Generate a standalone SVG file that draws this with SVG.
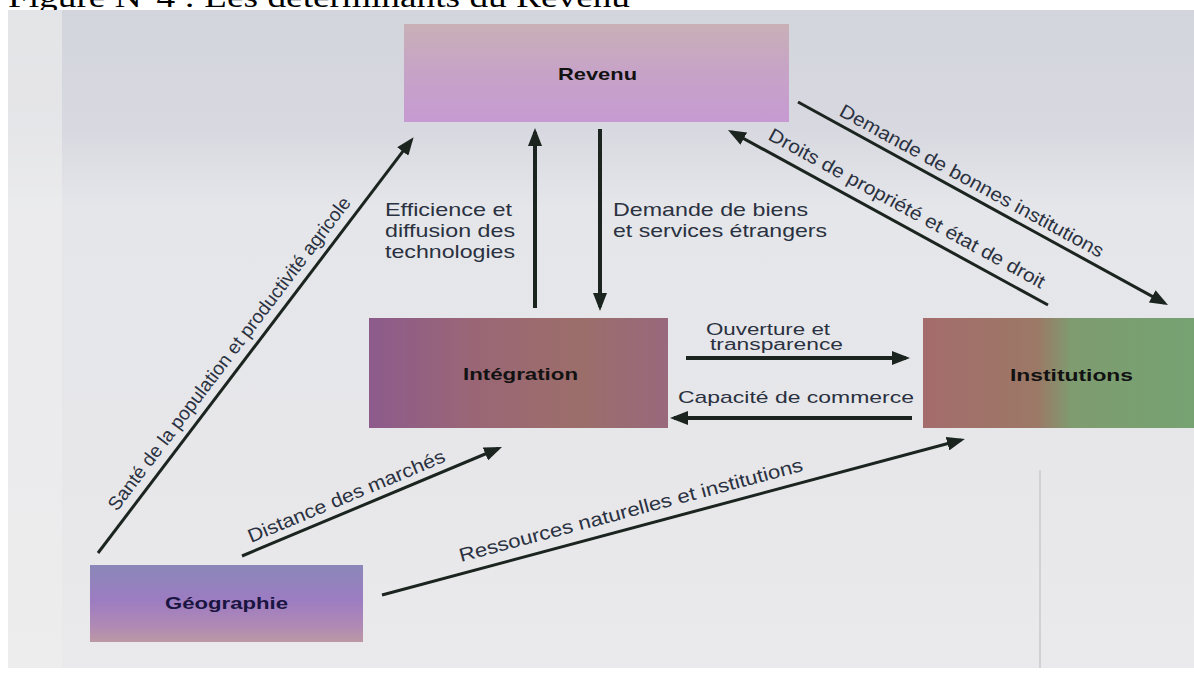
<svg xmlns="http://www.w3.org/2000/svg" width="1194" height="682" viewBox="0 0 1194 682">
<style>
.lbl{font-family:"Liberation Sans",Arial,sans-serif;font-size:19px;fill:#2a3140;}
.node{font-family:"Liberation Sans",Arial,sans-serif;font-size:17px;font-weight:bold;fill:#121212;}
.ln{stroke:#1b241f;fill:none;}
.thick{stroke-width:4;}
.thin{stroke-width:3;}
</style>
<defs>
<linearGradient id="bg" x1="0" y1="0" x2="0" y2="1">
<stop offset="0" stop-color="#d3d5dc"/>
<stop offset="0.18" stop-color="#d8d9e0"/>
<stop offset="0.3" stop-color="#e5e6ea"/>
<stop offset="0.7" stop-color="#e7e7ea"/>
<stop offset="1" stop-color="#eaeaec"/>
</linearGradient>
<linearGradient id="gRev" x1="0" y1="0" x2="0" y2="1">
<stop offset="0" stop-color="#c8b0b6"/>
<stop offset="0.45" stop-color="#c7a4c6"/>
<stop offset="1" stop-color="#c69ad2"/>
</linearGradient>
<linearGradient id="gInt" x1="0" y1="0" x2="1" y2="0">
<stop offset="0" stop-color="#8d5b8c"/>
<stop offset="0.35" stop-color="#9a6676"/>
<stop offset="0.7" stop-color="#9c6e6a"/>
<stop offset="1" stop-color="#99687c"/>
</linearGradient>
<linearGradient id="gIns" x1="0" y1="0" x2="1" y2="0">
<stop offset="0" stop-color="#a46c6c"/>
<stop offset="0.42" stop-color="#9c7866"/>
<stop offset="0.55" stop-color="#7e9c70"/>
<stop offset="1" stop-color="#76a272"/>
</linearGradient>
<linearGradient id="gGeo" x1="0" y1="0" x2="0" y2="1">
<stop offset="0" stop-color="#8a88b8"/>
<stop offset="0.45" stop-color="#9c7cc2"/>
<stop offset="0.8" stop-color="#b08ab4"/>
<stop offset="1" stop-color="#bc98a4"/>
</linearGradient>
<marker id="ah" viewBox="0 0 18 14" markerWidth="18" markerHeight="14" refX="14" refY="7" orient="auto" markerUnits="userSpaceOnUse">
<path d="M0,0 L18,7 L0,14 Z" fill="#1b241f"/>
</marker>
</defs>

<g id="title">
<text x="8" y="7" font-family="'Liberation Serif','Times New Roman',serif" font-size="30" fill="#000" textLength="622" lengthAdjust="spacingAndGlyphs">Figure N°4 : Les déterminants du Revenu</text>
</g>

<g id="background">
<rect x="8" y="10" width="1186" height="658" fill="url(#bg)"/>
<rect x="8" y="10" width="54" height="658" fill="#efefef" opacity="0.6"/>
<line x1="1040" y1="470" x2="1040" y2="668" stroke="#c9c9ce" stroke-width="1.5"/>
</g>

<g id="revenu">
<rect x="404" y="24" width="385" height="98" fill="url(#gRev)"/>
<text class="node" x="558" y="80" textLength="79" lengthAdjust="spacingAndGlyphs">Revenu</text>
</g>

<g id="integration">
<rect x="369" y="318" width="299" height="110" fill="url(#gInt)"/>
<text class="node" x="463" y="380" textLength="115" lengthAdjust="spacingAndGlyphs">Intégration</text>
</g>

<g id="institutions">
<rect x="923" y="318" width="271" height="110" fill="url(#gIns)"/>
<text class="node" x="1010" y="381" textLength="123" lengthAdjust="spacingAndGlyphs">Institutions</text>
</g>

<g id="geographie">
<rect x="90" y="565" width="273" height="77" fill="url(#gGeo)"/>
<text class="node" x="165" y="609" fill="#1a1440" style="fill:#1a1440" textLength="123" lengthAdjust="spacingAndGlyphs">Géographie</text>
</g>

<g id="connectors">
<line class="ln thin" x1="98" y1="553" x2="411.2" y2="140.4" marker-end="url(#ah)"/>
<line class="ln thick" x1="535" y1="308" x2="535" y2="132" marker-end="url(#ah)"/>
<line class="ln thick" x1="600" y1="129" x2="600" y2="307" marker-end="url(#ah)"/>
<line class="ln thick" x1="686" y1="358" x2="906" y2="358" marker-end="url(#ah)"/>
<line class="ln thick" x1="912" y1="418" x2="674" y2="418" marker-end="url(#ah)"/>
<line class="ln thin" x1="798" y1="102" x2="1164.5" y2="303.1" marker-end="url(#ah)"/>
<line class="ln thin" x1="1048" y1="305" x2="731.5" y2="131.9" marker-end="url(#ah)"/>
<line class="ln thin" x1="242" y1="556" x2="498.3" y2="448.5" marker-end="url(#ah)"/>
<line class="ln thin" x1="382" y1="595" x2="961" y2="440" marker-end="url(#ah)"/>

<text class="lbl" transform="translate(117,512) rotate(-52.8)" textLength="388" lengthAdjust="spacingAndGlyphs">Santé de la population et productivité agricole</text>
<text class="lbl" x="385" y="216" textLength="127" lengthAdjust="spacingAndGlyphs">Efficience et</text>
<text class="lbl" x="385" y="237" textLength="130" lengthAdjust="spacingAndGlyphs">diffusion des</text>
<text class="lbl" x="385" y="258" textLength="130" lengthAdjust="spacingAndGlyphs">technologies</text>
<text class="lbl" x="613" y="216" textLength="195" lengthAdjust="spacingAndGlyphs">Demande de biens</text>
<text class="lbl" x="613" y="237" textLength="214" lengthAdjust="spacingAndGlyphs">et services étrangers</text>
<text class="lbl" x="706" y="335" style="font-size:16px" textLength="124" lengthAdjust="spacingAndGlyphs">Ouverture et</text>
<text class="lbl" x="710" y="350" style="font-size:16px" textLength="133" lengthAdjust="spacingAndGlyphs">transparence</text>
<text class="lbl" x="678" y="403" style="font-size:17px" textLength="236" lengthAdjust="spacingAndGlyphs">Capacité de commerce</text>
<text class="lbl" transform="translate(838,115) rotate(28.7)" textLength="298" lengthAdjust="spacingAndGlyphs">Demande de bonnes institutions</text>
<text class="lbl" transform="translate(767,139) rotate(28.7)" textLength="312" lengthAdjust="spacingAndGlyphs">Droits de propriété et état de droit</text>
<text class="lbl" transform="translate(251,543) rotate(-22.7)" textLength="212" lengthAdjust="spacingAndGlyphs">Distance des marchés</text>
<text class="lbl" transform="translate(461,562) rotate(-14.9)" textLength="355" lengthAdjust="spacingAndGlyphs">Ressources naturelles et institutions</text>
</g>
</svg>
